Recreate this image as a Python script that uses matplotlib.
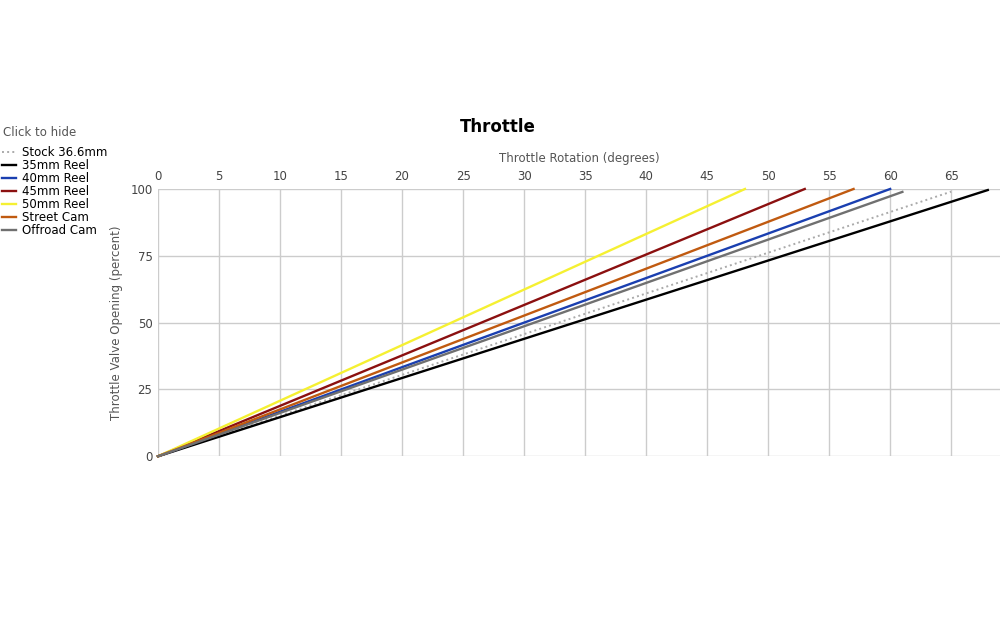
import matplotlib
matplotlib.use("Agg")
import matplotlib.pyplot as plt

names = ["Stock 36.6mm", "35mm Reel", "40mm Reel", "45mm Reel", "50mm Reel", "Street Cam", "Offroad Cam"]
end_deg = [65, 68, 60, 53, 48.1, 57, 61]
end_pct = [99, 99.6, 100, 100, 100, 100, 98.9]
colors = ["#aaaaaa", "#000000", "#1a3fb0", "#8b1010", "#f5f032", "#c05a10", "#707070"]
styles = [":", "-", "-", "-", "-", "-", "-"]

fig = plt.figure(figsize=(10, 6.32), dpi=100)
ax = fig.add_axes([0.158, 0.278, 0.842, 0.423])
for n, d, p, c, s in zip(names, end_deg, end_pct, colors, styles):
    ax.plot([0, d], [0, p], color=c, ls=s, lw=1.7 if s == "-" else 1.4, label=n, clip_on=False)
ax.set_xlim(0, 69)
ax.set_ylim(0, 100)
ax.set_xticks(range(0, 70, 5))
ax.set_yticks([0, 25, 50, 75, 100])
ax.xaxis.tick_top()
ax.xaxis.set_label_position("top")
ax.grid(color="#cccccc", lw=1)
ax.set_axisbelow(True)
for sp in ax.spines.values():
    sp.set_visible(False)
ax.tick_params(length=0, labelsize=8.5, colors="#444444", pad=4)
ax.set_xlabel("Throttle Rotation (degrees)", fontsize=8.5, color="#555555", labelpad=6)
ax.set_ylabel("Throttle Valve Opening (percent)", fontsize=8.5, color="#555555", labelpad=5)
fig.text(0.498, 0.799, "Throttle", ha="center", va="center", fontsize=12, fontweight="bold")
fig.text(0.003, 0.79, "Click to hide", fontsize=8.5, color="#555555", va="center")
leg = fig.legend(loc="upper left", bbox_to_anchor=(-0.003, 0.776), frameon=False, fontsize=8.5,
                 handlelength=1.2, handletextpad=0.5, labelspacing=0.0, borderaxespad=0)
fig.savefig("out.png", dpi=100)
